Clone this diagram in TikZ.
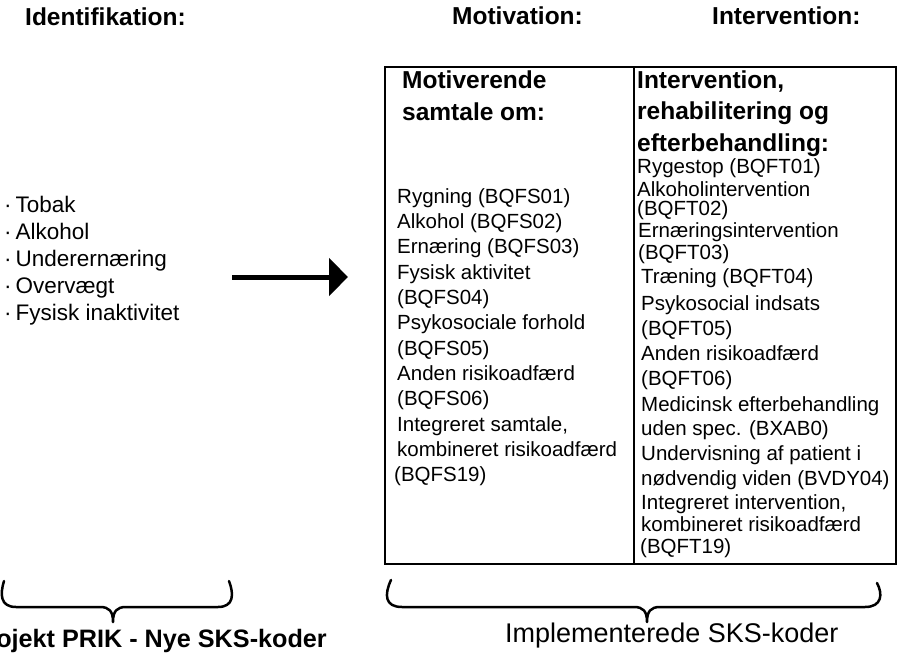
\documentclass[tikz,border=0pt]{standalone}
\usepackage{fontspec}
\setmainfont{Liberation Sans}
\usetikzlibrary{arrows.meta}
\tikzset{
  hd/.style={font=\fontsize{24.5}{28}\selectfont\bfseries, anchor=mid west, inner sep=0pt},
  tx/.style={font=\fontsize{20.5}{24}\selectfont, anchor=mid west, inner sep=0pt},
  lst/.style={font=\fontsize{22.5}{26}\selectfont, anchor=mid west, inner sep=0pt},
  lbl/.style={font=\fontsize{27}{30}\selectfont, anchor=mid west, inner sep=0pt},
  bracepath/.style={line width=2.5pt, line cap=round, line join=round},
  frame/.style={line width=1.5pt},
  bigarrow/.style={line width=5pt, -{Triangle[length=19pt,width=37pt]}}
}
\begin{document}
\begin{tikzpicture}[x=1pt,y=-1pt]
\useasboundingbox (0,0) rectangle (898,661);

% headings
\node[hd] (hid) at (25,23) {Identifikation:};
\node[hd] (hmot) at (452,22) {Motivation:};
\node[hd] (hint) at (712,22) {Intervention:};

% left list
\node[lst] (t1) at (4,210) {·\hspace{4pt}Tobak};
\node[lst] (t2) at (4,237) {·\hspace{4pt}Alkohol};
\node[lst] (t3) at (4,264) {·\hspace{4pt}Underernæring};
\node[lst] (t4) at (4,291) {·\hspace{4pt}Overvægt};
\node[lst] (t5) at (4,318) {·\hspace{4pt}Fysisk inaktivitet};

% arrow
\coordinate (as) at (232,277);
\coordinate (ae) at (348,277);
\draw[bigarrow] (as) -- (ae);

% table
\draw[frame] (385,67) rectangle (896,564);
\draw[frame] (634,67) -- (634,564);

% left column
\node[hd] (mh1) at (402,86) {Motiverende};
\node[hd] (mh2) at (402,118) {samtale om:};
\node[tx] (m1) at (397,201) {Rygning (BQFS01)};
\node[tx] (m2) at (397,226) {Alkohol (BQFS02)};
\node[tx] (m3) at (397,251) {Ernæring (BQFS03)};
\node[tx] (m4) at (397,277) {Fysisk aktivitet};
\node[tx] (m5) at (397,302) {(BQFS04)};
\node[tx] (m6) at (397,327) {Psykosociale forhold};
\node[tx] (m7) at (397,353) {(BQFS05)};
\node[tx] (m8) at (397,378) {Anden risikoadfærd};
\node[tx] (m9) at (397,403) {(BQFS06)};
\node[tx] (m10) at (397,429) {Integreret samtale,};
\node[tx] (m11) at (397,454) {kombineret risikoadfærd};
\node[tx] (m12) at (394,479) {(BQFS19)};

% right column
\node[hd] (ih1) at (637,86) {Intervention,};
\node[hd] (ih2) at (637,117) {rehabilitering og};
\node[hd] (ih3) at (637,149) {efterbehandling:};
\node[tx] (i1) at (637,171) {Rygestop (BQFT01)};
\node[tx] (i2) at (637,194) {Alkoholintervention};
\node[tx] (i3) at (637,213) {(BQFT02)};
\node[tx] (i4) at (638,235) {Ernæringsintervention};
\node[tx] (i5) at (638,257) {(BQFT03)};
\node[tx] (i6) at (641,281) {Træning (BQFT04)};
\node[tx] (i7) at (641,308) {Psykosocial indsats};
\node[tx] (i8) at (641,333) {(BQFT05)};
\node[tx] (i9) at (641,358) {Anden risikoadfærd};
\node[tx] (i10) at (641,383) {(BQFT06)};
\node[tx] (i11) at (641,409) {Medicinsk efterbehandling};
\node[tx] (i12) at (641,433) {uden spec. (BXAB0)};
\node[tx] (i13) at (641,458) {Undervisning af patient i};
\node[tx] (i14) at (641,483) {nødvendig viden (BVDY04)};
\node[tx] (i15) at (641,507) {Integreret intervention,};
\node[tx] (i16) at (641,529) {kombineret risikoadfærd};
\node[tx] (i17) at (640,551) {(BQFT19)};

% braces
\draw[bracepath] (4,581) .. controls (0,594) and (0,607) .. (16,607) -- (100,607)
  .. controls (109,607) and (113,611) .. (113,622)
  .. controls (113,611) and (117,607) .. (126,607) -- (218,607)
  .. controls (234,607) and (234,594) .. (229,581);
\draw[bracepath] (391,580) .. controls (384,595) and (385,607) .. (402,607) -- (634,607)
  .. controls (643,607) and (647,611) .. (647,622)
  .. controls (647,611) and (651,607) .. (660,607) -- (865,607)
  .. controls (882,607) and (883,594) .. (877,583);

% bottom labels (the reference cuts the first label at the left edge)
\node[hd, font=\fontsize{25.2}{29}\selectfont\bfseries, anchor=mid east] (lp) at (327,645) {Projekt PRIK - Nye SKS-koder};
\node[lbl] (li) at (505,640) {Implementerede SKS-koder};
\end{tikzpicture}
\end{document}
